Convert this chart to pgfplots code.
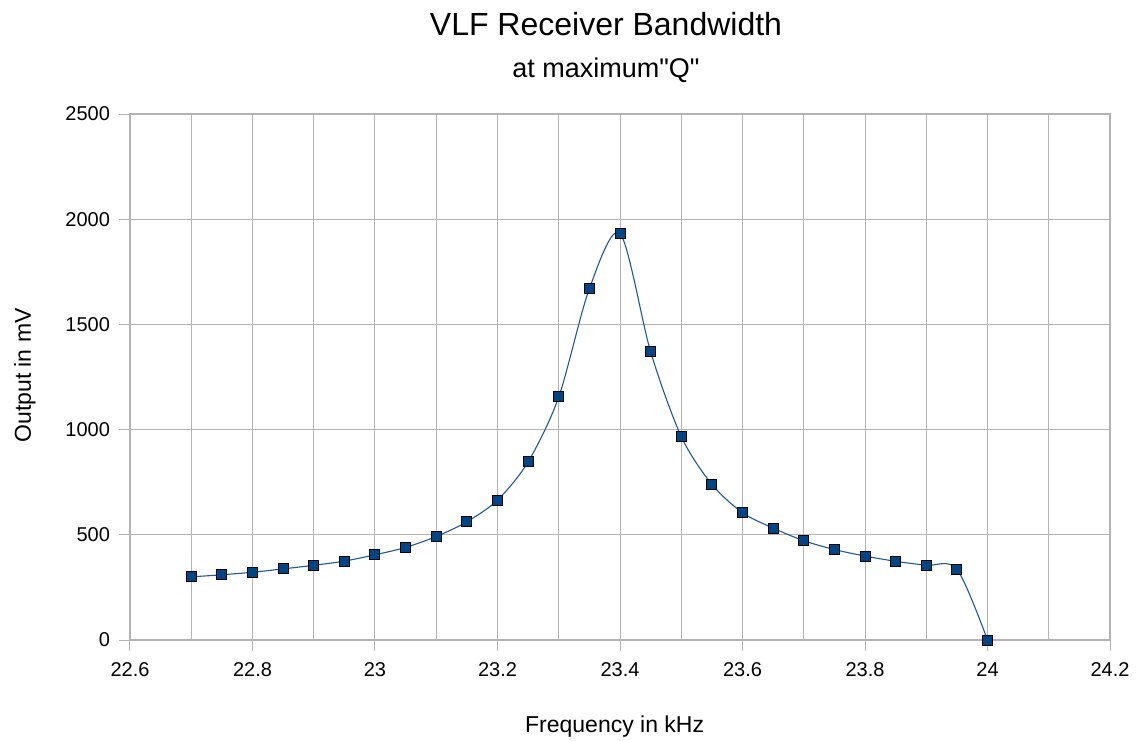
\documentclass[border=0pt]{standalone}
\usepackage{pgfplots}
\pgfplotsset{compat=1.18}
\usepackage{fontspec}
\setmainfont{Liberation Sans}
\newfontfamily\qfont{Liberation Sans}[Ligatures=TeXOff]
\definecolor{serblue}{HTML}{004586}
\definecolor{linblue}{HTML}{1F5A96}
\definecolor{gridgray}{HTML}{B3B3B3}
\begin{document}
\begin{tikzpicture}
\path[use as bounding box] (-65pt,-50pt) rectangle (503pt,320pt);
\begin{axis}[
  at={(0,0)}, anchor=south west,
  scale only axis, width=490pt, height=263pt,
  xmin=22.6, xmax=24.2, ymin=0, ymax=2500,
  xtick={22.6,22.8,...,24.21},
  minor xtick={22.7,22.9,...,24.11},
  ytick={0,500,...,2500},
  yticklabels={0,500,1000,1500,2000,2500},
  xticklabels={22.6,22.8,23,23.2,23.4,23.6,23.8,24,24.2},
  scaled x ticks=false, scaled y ticks=false,
  grid=both,
  major grid style={gridgray, line width=0.5pt},
  minor grid style={gridgray, line width=0.5pt},
  minor tick length=0pt,
  axis line style={gridgray, line width=0.6pt},
  tick style={gridgray, line width=0.5pt},
  tick align=outside, major tick length=5.5pt,
  xtick pos=bottom, ytick pos=left,
  /pgf/number format/assume math mode=true,
  yticklabel style={font=\fontsize{10}{12}\selectfont, xshift=-1pt},
  xticklabel style={font=\fontsize{10}{12}\selectfont, yshift=-2pt},
  xlabel={Frequency in kHz},
  ylabel={Output in mV},
  xlabel style={font=\fontsize{11.5}{13}\selectfont, at={(axis description cs:0.4945,0)}, anchor=center, yshift=-43.5pt},
  ylabel style={font=\fontsize{11.5}{13}\selectfont, at={(axis description cs:0,0.503)}, anchor=center, yshift=52.5pt},
  clip=false,
]
\addplot[linblue, line width=0.55pt, smooth, tension=0.5,
  mark=square*, mark size=2.5pt,
  mark options={fill=serblue, draw=black, line width=0.5pt}]
coordinates {
(22.70,300) (22.75,310) (22.80,322) (22.85,338) (22.90,355) (22.95,375)
(23.00,405) (23.05,440) (23.10,492) (23.15,562) (23.20,665) (23.25,847)
(23.30,1155) (23.35,1670) (23.40,1932) (23.45,1370) (23.50,967) (23.55,740)
(23.60,605) (23.65,532) (23.70,472) (23.75,430) (23.80,399) (23.85,374)
(23.90,355) (23.95,337) (24.00,0)
};
\end{axis}
\node[font=\fontsize{16}{19}\selectfont] at (238pt,308pt) {VLF Receiver Bandwidth};
\node[font=\qfont\fontsize{13.5}{16}\selectfont] at (238pt,285pt) {at maximum"Q"};
\end{tikzpicture}
\end{document}
